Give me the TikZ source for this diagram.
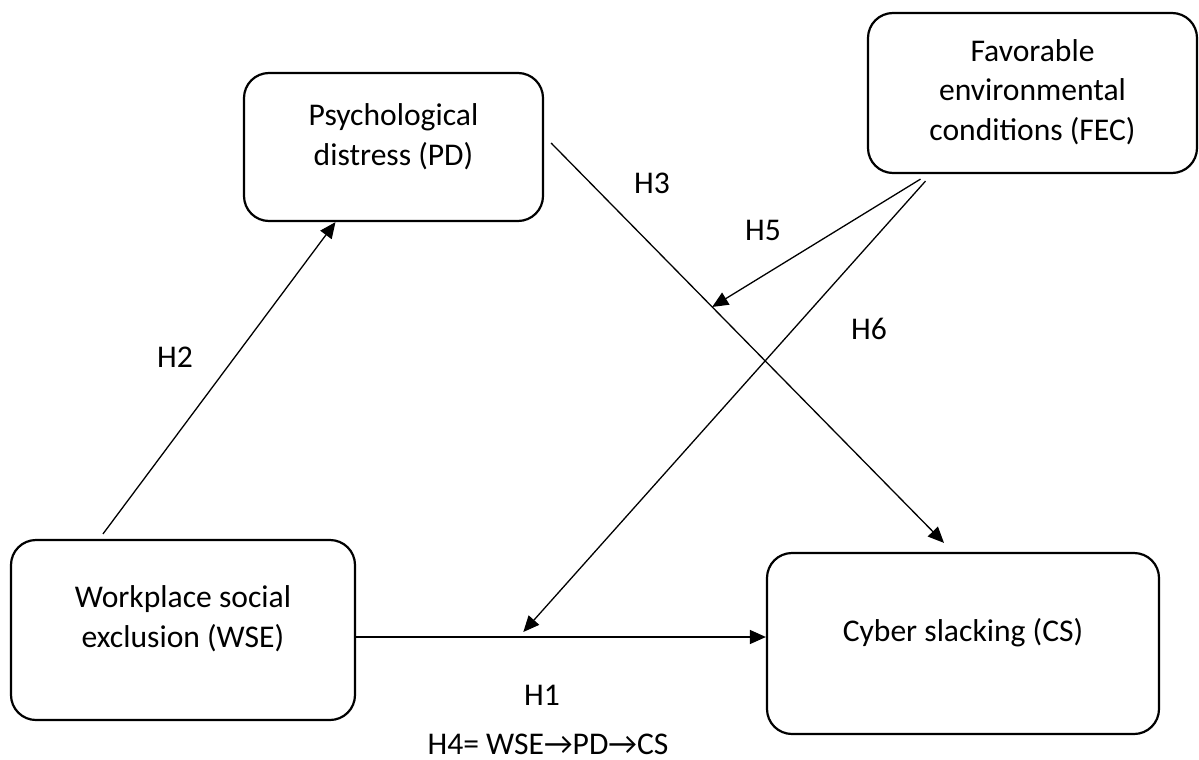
\documentclass[tikz,border=0pt]{standalone}
\usepackage{fontspec}
\setmainfont{Carlito}
\usetikzlibrary{arrows.meta,calc}
\begin{document}
\begin{tikzpicture}[
  x=0.5pt, y=-0.5pt,
  every node/.style={font=\fontsize{15.8}{19.8}\selectfont},
  box/.style={draw, line width=1.1pt, rounded corners=12.5pt, inner sep=0pt},
  boxtext/.style={align=center, inner sep=0pt},
  conn/.style={line width=0.65pt},
  arr/.style={conn, -{Triangle[length=8pt, width=7pt]}},
  hyp/.style={inner sep=0pt}
]
\useasboundingbox (0,0) rectangle (1199,760);
% constructs
\node[box, minimum width=149.5pt, minimum height=74pt] (pd) at (393.5,147) {};
\node[box, minimum width=164.5pt, minimum height=80pt] (fec) at (1032.5,93) {};
\node[box, minimum width=172pt, minimum height=90pt] (wse) at (183,630) {};
\node[box, minimum width=196pt, minimum height=90.5pt] (cs) at (963,643.5) {};
\node[boxtext] (pdtext) at (393.5,136.5) {Psychological\\distress (PD)};
\node[boxtext] (fectext) at (1032.5,92) {Favorable\\environmental\\conditions (FEC)};
\node[boxtext] (wsetext) at (183,619) {Workplace social\\exclusion (WSE)};
\node[boxtext] (cstext) at (963,633) {Cyber slacking (CS)};
% paths
\draw[arr] ($(wse.north)+(-80,-5)$) -- ($(pd.south)+(-58,0)$);
\draw[arr] ($(pd.east)+(7,-4)$) -- coordinate[pos=0.41] (m5) ($(cs.north)+(-19,-9)$);
\draw[arr] ($(wse.east)+(0,7)$) -- coordinate[pos=0.408] (m6) ($(cs.west)+(0,-6.5)$);
\draw[arr] ($(fec.south)+(-112,5)$) -- (m5);
\draw[arr] ($(fec.south)+(-107,7)$) -- ($(m6)+(0,-5)$);
% hypotheses
\foreach \h/\x/\y in {H2/175/357, H3/652/183, H5/763/230, H6/869/329, H1/542/695} {
  \node[hyp] (lbl\h) at (\x,\y) {\h};
}
\node[hyp] (lblH4) at (548,744) {H4= WSE→PD→CS};
\end{tikzpicture}
\end{document}
